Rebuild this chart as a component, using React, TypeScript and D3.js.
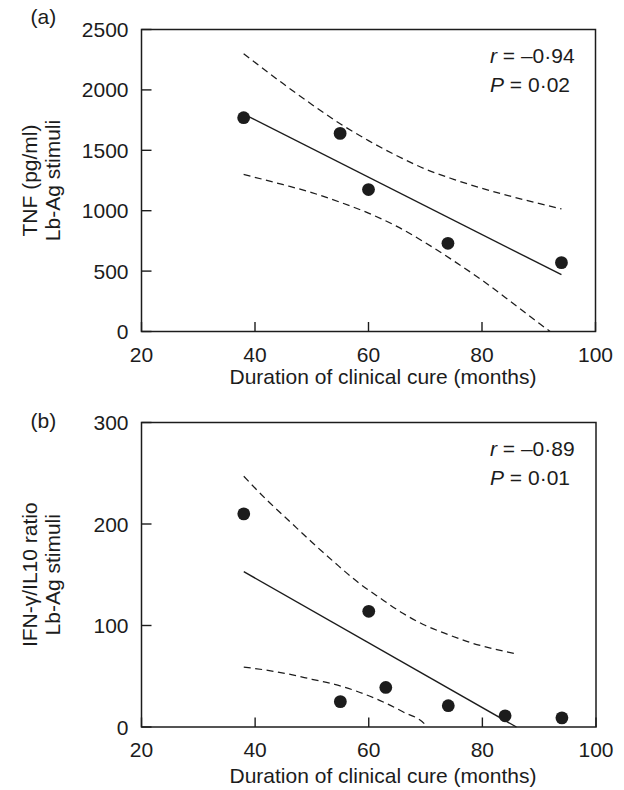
import React from "react";
import * as d3 from "d3";

// ---------- Data ----------
const xTicks = [20, 40, 60, 80, 100];

// Panel (a): TNF
const tnfMonths = [38, 55, 60, 74, 94];
const tnfValues = [1770, 1640, 1175, 730, 570];
const tnfFitX = [38, 94];
const tnfFitY = [1800, 470];
const tnfUpperX = [38, 45, 50, 55, 60, 65, 70, 75, 80, 85, 90, 94];
const tnfUpperY = [2300, 2050, 1880, 1720, 1580, 1455, 1345, 1260, 1185, 1120, 1060, 1015];
const tnfLowerX = [38, 45, 50, 55, 60, 65, 70, 75, 80, 85, 90, 92];
const tnfLowerY = [1300, 1215, 1150, 1070, 980, 870, 735, 585, 425, 250, 70, 0];
const tnfYTicks = [0, 500, 1000, 1500, 2000, 2500];

// Panel (b): IFN-γ/IL10 ratio
const ratioMonths = [38, 55, 60, 63, 74, 84, 94];
const ratioValues = [210, 25, 114, 39, 21, 11, 9];
const ratioFitX = [38, 86];
const ratioFitY = [153, 0];
const ratioUpperX = [38, 42, 46, 50, 54, 58, 62, 66, 70, 74, 78, 82, 86];
const ratioUpperY = [247, 224, 203, 182, 162, 143, 127, 112, 100, 91, 83, 77, 72];
const ratioLowerX = [38, 42, 46, 50, 54, 58, 62, 66, 70, 70.3];
const ratioLowerY = [59, 56, 52, 47, 42, 35, 26, 15, 2, 0];
const ratioYTicks = [0, 100, 200, 300];

const FONT = '"Liberation Sans", Arial, Helvetica, sans-serif';
const INK = "#1c1c1c";

type PanelProps = {
  tag: string;
  left: number;
  right: number;
  top: number;
  bottom: number;
  yMax: number;
  yTicks: number[];
  px: number[];
  py: number[];
  fitX: number[];
  fitY: number[];
  upX: number[];
  upY: number[];
  loX: number[];
  loY: number[];
  yLabel1: string;
  yLabel2: string;
  rText: string;
  pText: string;
  tickLabelOffset: number;
  titleOffset: number;
  tagBaseline: number;
};

function Panel(p: PanelProps) {
  const x = d3.scaleLinear().domain([20, 100]).range([p.left, p.right]);
  const y = d3.scaleLinear().domain([0, p.yMax]).range([p.bottom, p.top]);
  const line = d3
    .line<[number, number]>()
    .x((d) => x(d[0]))
    .y((d) => y(d[1]))
    .curve(d3.curveMonotoneX);
  const straight = d3
    .line<[number, number]>()
    .x((d) => x(d[0]))
    .y((d) => y(d[1]));
  const zip = (a: number[], b: number[]) => a.map((v, i) => [v, b[i]] as [number, number]);
  const midY = (p.top + p.bottom) / 2;
  const txt = { fontFamily: FONT, fontSize: 21, fill: INK } as const;

  return (
    <g>
      <text x={30.5} y={p.tagBaseline} style={txt}>
        {p.tag}
      </text>
      {/* Y label (two lines) */}
      <text transform={`translate(37,${midY}) rotate(-90)`} textAnchor="middle" style={txt}>
        {p.yLabel1}
      </text>
      <text transform={`translate(59.5,${midY}) rotate(-90)`} textAnchor="middle" style={txt}>
        {p.yLabel2}
      </text>
      {/* frame */}
      <rect
        x={p.left}
        y={p.top}
        width={p.right - p.left}
        height={p.bottom - p.top}
        fill="none"
        stroke={INK}
        strokeWidth={1.5}
      />
      {/* y ticks */}
      {p.yTicks.map((t) => (
        <g key={"y" + t}>
          <line x1={p.left} x2={p.left + 10} y1={y(t)} y2={y(t)} stroke={INK} strokeWidth={1.4} />
          <text x={128.5} y={y(t) + 7.5} textAnchor="end" style={txt}>
            {t}
          </text>
        </g>
      ))}
      {/* x ticks */}
      {xTicks.map((t) => (
        <g key={"x" + t}>
          <line x1={x(t)} x2={x(t)} y1={p.bottom} y2={p.bottom - 9.5} stroke={INK} strokeWidth={1.4} />
          <text x={x(t)} y={p.bottom + p.tickLabelOffset} textAnchor="middle" style={txt}>
            {t}
          </text>
        </g>
      ))}
      <text x={383} y={p.bottom + p.titleOffset} textAnchor="middle" style={txt}>
        Duration of clinical cure (months)
      </text>
      {/* confidence bands */}
      <path d={line(zip(p.upX, p.upY)) || ""} fill="none" stroke={INK} strokeWidth={1.25} strokeDasharray="7,4.5" />
      <path d={line(zip(p.loX, p.loY)) || ""} fill="none" stroke={INK} strokeWidth={1.25} strokeDasharray="7,4.5" />
      {/* fit */}
      <path d={straight(zip(p.fitX, p.fitY)) || ""} fill="none" stroke={INK} strokeWidth={1.4} />
      {/* points */}
      {p.px.map((v, i) => (
        <circle key={"p" + i} cx={x(v)} cy={y(p.py[i])} r={6.4} fill={INK} />
      ))}
      {/* stats */}
      <text x={490} y={p.top + 33.5} style={txt}>
        <tspan fontStyle="italic">r</tspan> = {p.rText}
      </text>
      <text x={490} y={p.top + 62} style={txt}>
        <tspan fontStyle="italic">P</tspan> = {p.pText}
      </text>
    </g>
  );
}

export default function App() {
  return (
    <svg
      width={624}
      height={790}
      viewBox="0 0 624 790"
      style={{ position: "absolute", left: 0, top: 0, background: "#fff" }}
    >
      <rect x={0} y={0} width={624} height={790} fill="#fff" />
      <Panel
        tag="(a)"
        left={141.5}
        right={595.5}
        top={29.5}
        bottom={331.5}
        yMax={2500}
        yTicks={tnfYTicks}
        px={tnfMonths}
        py={tnfValues}
        fitX={tnfFitX}
        fitY={tnfFitY}
        upX={tnfUpperX}
        upY={tnfUpperY}
        loX={tnfLowerX}
        loY={tnfLowerY}
        yLabel1="TNF (pg/ml)"
        yLabel2="Lb-Ag stimuli"
        rText={"\u20130\u00B794"}
        pText={"0\u00B702"}
        tickLabelOffset={30.5}
        titleOffset={52.5}
        tagBaseline={23.5}
      />
      <Panel
        tag="(b)"
        left={141.5}
        right={596}
        top={422.5}
        bottom={727}
        yMax={300}
        yTicks={ratioYTicks}
        px={ratioMonths}
        py={ratioValues}
        fitX={ratioFitX}
        fitY={ratioFitY}
        upX={ratioUpperX}
        upY={ratioUpperY}
        loX={ratioLowerX}
        loY={ratioLowerY}
        yLabel1={"IFN-\u03B3/IL10 ratio"}
        yLabel2="Lb-Ag stimuli"
        rText={"\u20130\u00B789"}
        pText={"0\u00B701"}
        tickLabelOffset={30.3}
        titleOffset={56}
        tagBaseline={427.5}
      />
    </svg>
  );
}
